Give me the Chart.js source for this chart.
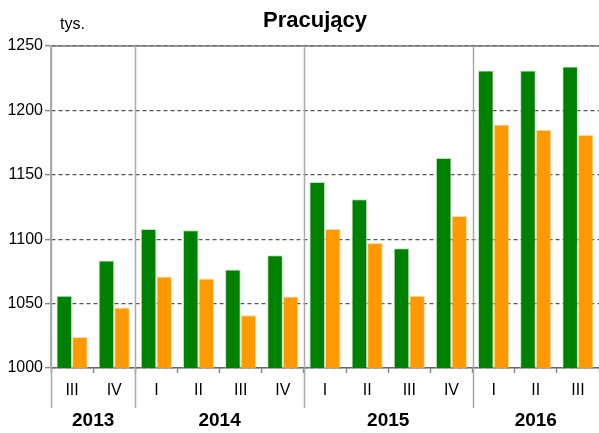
<!DOCTYPE html>
<html>
<head>
<meta charset="utf-8">
<script src="https://cdn.jsdelivr.net/npm/chart.js@4/dist/chart.umd.min.js"></script>
<style>
  html, body { margin: 0; padding: 0; background: #fff; }
  #wrap { width: 599px; height: 433px; }
</style>
</head>
<body>
<div id="wrap"><canvas id="barChart" width="599" height="433"></canvas></div>
<script>
// Categories: quarters grouped by year
const QUARTERS = ['III', 'IV', 'I', 'II', 'III', 'IV', 'I', 'II', 'III', 'IV', 'I', 'II', 'III'];
const YEARS = ['2013', '2014', '2015', '2016'];
const YEAR_SPANS = [2, 4, 4, 3];

// Values in thousands
const GREEN_VALUES  = [1056, 1083.5, 1108, 1107, 1076.5, 1087.5, 1144.5, 1131, 1093, 1163, 1231, 1231, 1234];
const ORANGE_VALUES = [1024, 1047, 1071, 1069.5, 1041, 1055.5, 1108, 1097, 1056, 1118, 1189, 1185, 1181];

const Y_MIN = 1000, Y_MAX = 1250, Y_STEP = 50;

const FONT = '"Liberation Sans", Arial, sans-serif';

// Title, unit label, year labels and the year separators
const decorPlugin = {
  id: 'decor',
  afterDraw(chart) {
    const { ctx, chartArea, scales } = chart;
    const x = scales.x;
    const lineBottom = 408;
    ctx.save();

    // solid top line at 1250
    ctx.strokeStyle = '#777';
    ctx.lineWidth = 1.5;
    ctx.beginPath();
    ctx.moveTo(chartArea.left, chartArea.top);
    ctx.lineTo(chartArea.right, chartArea.top);
    ctx.stroke();

    // left axis + year separators running down into the label area
    ctx.strokeStyle = '#aaa';
    ctx.lineWidth = 1.5;
    let idx = 0;
    const bounds = [chartArea.left];
    YEAR_SPANS.forEach((span, i) => {
      idx += span;
      if (i < YEAR_SPANS.length - 1) {
        bounds.push((x.getPixelForValue(idx - 1) + x.getPixelForValue(idx)) / 2);
      }
    });
    bounds.forEach(px => {
      ctx.beginPath();
      ctx.moveTo(Math.round(px) + 0.5, chartArea.top);
      ctx.lineTo(Math.round(px) + 0.5, lineBottom);
      ctx.stroke();
    });

    // year labels
    ctx.fillStyle = '#000';
    ctx.font = 'bold 19px ' + FONT;
    ctx.textAlign = 'center';
    ctx.textBaseline = 'middle';
    idx = 0;
    YEARS.forEach((yr, i) => {
      const first = x.getPixelForValue(idx);
      const last = x.getPixelForValue(idx + YEAR_SPANS[i] - 1);
      ctx.fillText(yr, (first + last) / 2, 421);
      idx += YEAR_SPANS[i];
    });

    // title and unit
    ctx.font = 'bold 22px ' + FONT;
    ctx.fillText('Pracujący', 315, 21);
    ctx.font = '16px ' + FONT;
    ctx.textAlign = 'left';
    ctx.fillText('tys.', 60, 25);
    ctx.restore();
  }
};

new Chart(document.getElementById('barChart'), {
  type: 'bar',
  data: {
    labels: QUARTERS,
    datasets: [
      {
        label: 'seria 1',
        data: GREEN_VALUES,
        backgroundColor: '#008000',
        borderColor: 'rgba(160,215,160,0.7)',
        borderWidth: 1
      },
      {
        label: 'seria 2',
        data: ORANGE_VALUES,
        backgroundColor: '#ff9900',
        borderColor: 'rgba(255,210,140,0.7)',
        borderWidth: 1
      }
    ]
  },
  options: {
    responsive: false,
    animation: false,
    layout: { padding: { top: 46, left: 0, right: 0, bottom: 0 } },
    datasets: {
      bar: { categoryPercentage: 0.74, barPercentage: 1.0 }
    },
    plugins: {
      legend: { display: false },
      title: { display: false },
      tooltip: { enabled: false }
    },
    scales: {
      x: {
        afterFit: s => { s.height = 65; },
        grid: {
          display: true,
          drawOnChartArea: false,
          tickLength: 5,
          tickColor: '#888',
          tickWidth: 1.5
        },
        border: { display: true, color: '#666', width: 1.5 },
        ticks: {
          color: '#000',
          padding: 8,
          font: { family: FONT, size: 16 }
        }
      },
      y: {
        min: Y_MIN,
        max: Y_MAX,
        afterFit: s => { s.width = 51; },
        ticks: {
          stepSize: Y_STEP,
          color: '#000',
          padding: 2,
          font: { family: FONT, size: 16 },
          callback: v => String(v)
        },
        grid: {
          color: '#555',
          lineWidth: 1.2,
          tickLength: 6,
          tickColor: '#888',
          tickWidth: 1.5
        },
        border: { display: true, color: '#aaa', width: 1.5, dash: [4, 3] }
      }
    }
  },
  plugins: [decorPlugin]
});
</script>
</body>
</html>
